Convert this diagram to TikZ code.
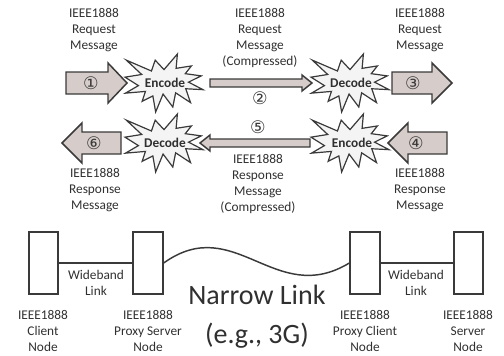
\documentclass[tikz,border=0pt]{standalone}
\usepackage{fontspec}
\setmainfont{Carlito}
\newfontfamily\circfont{DejaVu Sans}
\definecolor{ink}{HTML}{3A3A3A}
\definecolor{arrfill}{HTML}{D6CCC9}
\definecolor{burstfill}{HTML}{F4F4F4}
\definecolor{txt}{HTML}{303030}
\newcommand\burstpath{(0,-0.231)--(0.172,-0.5)--(0.155,-0.253)--(0.351,-0.294)--(0.273,-0.161)--(0.477,-0.123)--(0.315,-0.015)--(0.5,0.115)--(0.279,0.099)--(0.340,0.338)--(0.149,0.169)--(0.113,0.414)--(-0.012,0.191)--(-0.107,0.5)--(-0.143,0.223)--(-0.280,0.316)--(-0.238,0.145)--(-0.494,0.175)--(-0.328,0.045)--(-0.5,-0.101)--(-0.286,-0.147)--(-0.483,-0.394)--(-0.161,-0.207)--(-0.113,-0.394)--cycle}
\begin{document}
\begin{tikzpicture}[x=0.75pt,y=-0.75pt,
  lbl/.style={align=center,font=\fontsize{10}{12}\selectfont,text=txt,inner sep=0pt},
  bigl/.style={align=center,font=\fontsize{21}{29}\selectfont,text=txt,inner sep=0pt},
  circ/.style={font=\circfont\fontsize{13}{14}\selectfont,text=ink,inner sep=0pt},
  codetxt/.style={font=\fontsize{10}{11}\selectfont\bfseries,text=txt,inner sep=0pt},
  blockarrow/.style={draw=ink,fill=arrfill,line width=1.1pt,line join=miter},
  burststyle/.style={draw=ink,fill=burstfill,line width=0.9pt,line join=miter},
  nodebox/.style={draw=ink,line width=1.5pt,minimum width=22pt,minimum height=47pt,inner sep=0pt},
  link/.style={draw=ink,line width=1.1pt}]
\useasboundingbox (0,0) rectangle (504,355);

% ---------- row 1 ----------
\draw[blockarrow] (66,72)--(108,72)--(108,63)--(127,83)--(108,103)--(108,94)--(66,94)--cycle;
\node[circ] (c1) at (91,83) {①};
\begin{scope}[shift={(164,83)},x=58.5pt,y=-43.5pt]
  \draw[burststyle] \burstpath;
\end{scope}
\node[codetxt] (enc1) at (165,83) {Encode};
\draw[blockarrow] (210,79)--(302,79)--(302,75)--(312,83)--(302,91)--(302,87)--(210,87)--cycle;
\node[circ] (c2) at (260,98) {②};
\begin{scope}[shift={(350,83)},x=58.5pt,y=-43.5pt]
  \draw[burststyle] \burstpath;
\end{scope}
\node[codetxt] (dec1) at (351,83) {Decode};
\draw[blockarrow] (392,72)--(432,72)--(432,63)--(452,83)--(432,103)--(432,94)--(392,94)--cycle;
\node[circ] (c3) at (413,83) {③};

% ---------- row 2 ----------
\draw[blockarrow] (121,132)--(82,132)--(82,123)--(62,143)--(82,163)--(82,154)--(121,154)--cycle;
\node[circ] (c6) at (94,143) {⑥};
\begin{scope}[shift={(164,143)},x=58.5pt,y=-43.5pt]
  \draw[burststyle] \burstpath;
\end{scope}
\node[codetxt] (dec2) at (165,143) {Decode};
\draw[blockarrow] (310,139)--(210,139)--(210,135)--(200,143)--(210,151)--(210,147)--(310,147)--cycle;
\node[circ] (c5) at (258,127) {⑤};
\begin{scope}[shift={(350,143)},x=58.5pt,y=-43.5pt]
  \draw[burststyle] \burstpath;
\end{scope}
\node[codetxt] (enc2) at (352,143) {Encode};
\draw[blockarrow] (447,132)--(408,132)--(408,123)--(388,143)--(408,163)--(408,154)--(447,154)--cycle;
\node[circ] (c4) at (416,143) {④};

% ---------- message labels ----------
\node[lbl] (t1) at (94,30) {IEEE1888\\Request\\Message};
\node[lbl] (t2) at (260,38) {IEEE1888\\Request\\Message\\(Compressed)};
\node[lbl] (t3) at (420,30) {IEEE1888\\Request\\Message};
\node[lbl] (t6) at (95,190) {IEEE1888\\Response\\Message};
\node[lbl] (t5) at (258,184) {IEEE1888\\Response\\Message\\(Compressed)};
\node[lbl] (t4) at (420,190) {IEEE1888\\Response\\Message};

% ---------- network ----------
\node[nodebox] (cl) at (43.5,263) {};
\node[nodebox] (ps) at (148,263) {};
\node[nodebox] (pc) at (365,263) {};
\node[nodebox] (sv) at (468.5,263) {};
\draw[link] (cl.east) -- (ps.west);
\draw[link] (pc.east) -- (sv.west);
\draw[link] (ps.east) .. controls (235,212) and (275,308) .. (pc.west);
\node[lbl] (w1) at (96,283) {Wideband\\Link};
\node[lbl] (w2) at (416,283) {Wideband\\Link};
\node[bigl] (nl) at (257,317) {Narrow Link\\(e.g., 3G)};
\node[lbl] (l1) at (43,331) {IEEE1888\\Client\\Node};
\node[lbl] (l2) at (148,331) {IEEE1888\\Proxy Server\\Node};
\node[lbl] (l3) at (365,331) {IEEE1888\\Proxy Client\\Node};
\node[lbl] (l4) at (468,331) {IEEE1888\\Server\\Node};
\end{tikzpicture}
\end{document}
